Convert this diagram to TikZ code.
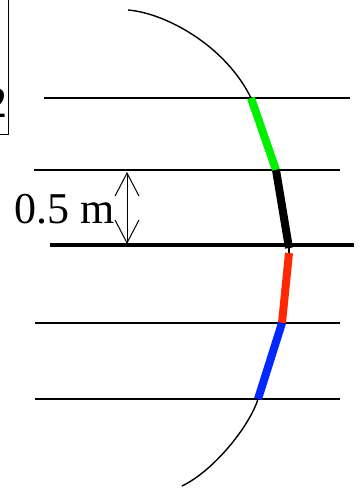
\documentclass[tikz,border=0pt]{standalone}
\usepackage{fontspec}
\setmainfont{Liberation Serif}
\usetikzlibrary{arrows.meta}

\definecolor{segGreen}{RGB}{0,240,0}
\definecolor{segRed}{RGB}{255,40,0}
\definecolor{segBlue}{RGB}{0,40,255}

\begin{document}
\begin{tikzpicture}[
  x=0.5pt,y=-0.5pt,
  level/.style={black,line width=0.75pt},
  ground/.style={black,line width=2pt},
  rope/.style={black,line width=0.7pt},
  seg/.style={line width=4pt},
  dim/.style={line width=0.5pt,{Straight Barb[length=11.5pt,width=12pt]}-{Straight Barb[length=11.5pt,width=12pt]}},
  note/.style={font=\fontsize{22}{26}\selectfont,inner sep=0pt}
]
  \useasboundingbox (0,0) rectangle (360,488);

  % cut-off label box on the left
  \draw[line width=0.8pt] (-40,-5) rectangle (8.5,134.5);
  \node[note,anchor=base east] (tag) at (7.5,117) {2};

  % levels
  \draw[level] (44,98) -- (350,98);
  \draw[level] (34,170) -- (340,170);
  \draw[ground] (50,245) -- (354,245);
  \draw[level] (35,323) -- (340,323);
  \draw[level] (35,399) -- (340,399);

  % points on the rope
  \coordinate (p0) at (128,10);
  \coordinate (p1) at (251,98);
  \coordinate (p2) at (276,170);
  \coordinate (p3) at (289,248);
  \coordinate (p4) at (289,253);
  \coordinate (p5) at (282,323);
  \coordinate (p6) at (258,399);
  \coordinate (p7) at (182,486);

  % thin rope ends
  \draw[rope] (p0) .. controls (165,13) and (225,45) .. (p1);
  \draw[rope] (p6) .. controls (250,425) and (215,470) .. (p7);
  \draw[rope] (p3) -- (p4);

  % thick pieces
  \draw[seg,segGreen] (p1) -- (p2);
  \draw[seg,black] (p2) -- (p3);
  \draw[seg,segRed] (p4) -- (p5);
  \draw[seg,segBlue] (p5) -- (p6);

  % spacing
  \coordinate (d1) at (127,172);
  \coordinate (d2) at (127,244);
  \draw[dim] (d1) -- (d2);
  \node[note,anchor=base west] (gap) at (14,223) {0.5 m};
\end{tikzpicture}
\end{document}
